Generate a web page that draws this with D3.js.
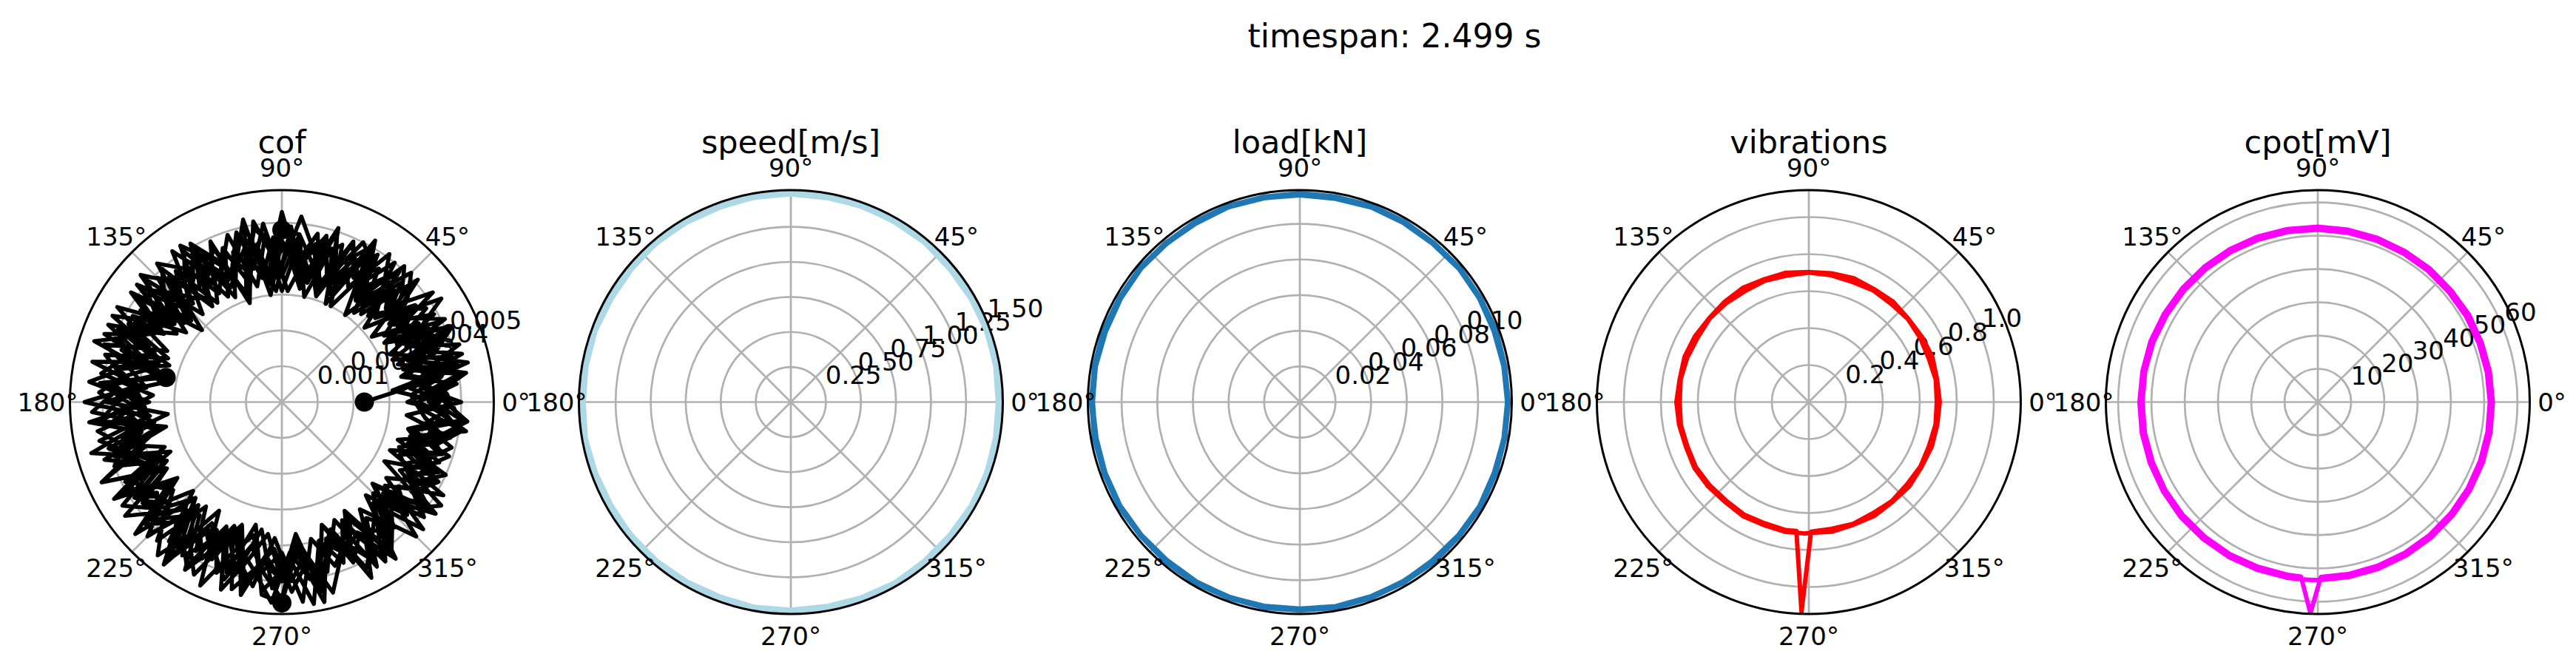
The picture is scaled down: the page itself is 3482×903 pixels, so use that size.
<!DOCTYPE html>
<html><head><meta charset="utf-8">
<script src="https://cdn.jsdelivr.net/npm/d3@7"></script>
<style>body{margin:0;background:#fff}svg text{font-family:"DejaVu Sans",sans-serif;fill:#000}</style>
</head><body><svg id="chart" width="3482" height="903"></svg>
<script>
// ---------- data ----------
const suptitle = "timespan: 2.499 s";
const panelTitles = ["cof", "speed[m/s]", "load[kN]", "vibrations", "cpot[mV]"];
const thetaTickDeg = [0, 45, 90, 135, 180, 225, 270, 315];
const thetaTickLabels = ["0°", "45°", "90°", "135°", "180°", "225°", "270°", "315°"];

// sample angles (degrees)
const cofAnglesA = [0,6,12,18,24,30,36,42,48,54,60,66,72,78,84,90,96,102,108,114,120,126,132,138,144,150,156,162,168,174,180,186,192,198,204,210,216,222,228,234,240,246,252,258,264,270,276,282,288,294,300,306,312,318,324,330,336,342,348,354];
const cofAnglesB = [3,9,15,21,27,33,39,45,51,57,63,69,75,81,87,93,99,105,111,117,123,129,135,141,147,153,159,165,171,177,183,189,195,201,207,213,219,225,231,237,243,249,255,261,267,273,279,285,291,297,303,309,315,321,327,333,339,345,351,357];
const ringAngles = [0,10,20,30,40,50,60,70,80,90,100,110,120,130,140,150,160,170,180,190,200,210,220,230,240,250,260,270,280,290,300,310,320,330,340,350,360];
const spikeAngles = [0,10,20,30,40,50,60,70,80,90,100,110,120,130,140,150,160,170,180,190,200,210,220,230,240,250,260,264.5,268,271,280,290,300,310,320,330,340,350,360];

// cof, one array per revolution
const cofLap1 = [0.0023,0.0034,0.0047,0.0038,0.0051,0.0035,0.0044,0.0031,0.0049,0.0040,0.0052,0.0033,0.0045,0.0030,0.0047,0.0048,0.0036,0.0050,0.0032,0.0043,0.0051,0.0035,0.0046,0.0030,0.0049,0.0038,0.0053,0.0041,0.0033,0.0050,0.0037,0.0054,0.0040,0.0048,0.0034,0.0052,0.0039,0.0055,0.0036,0.0047,0.0053,0.0038,0.0050,0.0035,0.0054,0.0056,0.0041,0.0052,0.0036,0.0049,0.0043,0.0054,0.0035,0.0047,0.0040,0.0052,0.0033,0.0046,0.0038,0.0051];
const cofLap2 = [0.0039,0.0050,0.0035,0.0047,0.0042,0.0053,0.0037,0.0044,0.0032,0.0049,0.0041,0.0036,0.0047,0.0033,0.0045,0.0040,0.0051,0.0034,0.0046,0.0038,0.0050,0.0043,0.0036,0.0048,0.0041,0.0053,0.0038,0.0046,0.0051,0.0036,0.0044,0.0040,0.0055,0.0042,0.0037,0.0049,0.0045,0.0052,0.0039,0.0047,0.0054,0.0041,0.0049,0.0036,0.0052,0.0044,0.0057,0.0040,0.0048,0.0037,0.0053,0.0045,0.0039,0.0050,0.0043,0.0048,0.0035,0.0045,0.0051,0.0039];
const cofLap3 = [0.0044,0.0031,0.0050,0.0037,0.0046,0.0033,0.0052,0.0039,0.0045,0.0030,0.0048,0.0036,0.0050,0.0034,0.0044,0.0031,0.0047,0.0042,0.0029,0.0049,0.0038,0.0045,0.0033,0.0051,0.0040,0.0047,0.0035,0.0052,0.0043,0.0038,0.0049,0.0032,0.0046,0.0040,0.0055,0.0037,0.0048,0.0044,0.0036,0.0053,0.0041,0.0047,0.0038,0.0055,0.0043,0.0050,0.0037,0.0054,0.0041,0.0046,0.0035,0.0052,0.0044,0.0039,0.0049,0.0033,0.0047,0.0041,0.0036,0.0050];
const cofLap4 = [0.0046,0.0037,0.0052,0.0040,0.0049,0.0034,0.0045,0.0051,0.0038,0.0043,0.0030,0.0047,0.0042,0.0035,0.0049,0.0031,0.0044,0.0048,0.0036,0.0042,0.0033,0.0047,0.0039,0.0052,0.0035,0.0044,0.0049,0.0040,0.0034,0.0047,0.0053,0.0038,0.0045,0.0050,0.0036,0.0048,0.0042,0.0053,0.0037,0.0051,0.0044,0.0038,0.0054,0.0047,0.0041,0.0053,0.0045,0.0049,0.0038,0.0055,0.0042,0.0047,0.0036,0.0051,0.0044,0.0040,0.0047,0.0037,0.0052,0.0043];
const cofLap5 = [0.0038,0.0049,0.0034,0.0045,0.0052,0.0036,0.0043,0.0031,0.0048,0.0038,0.0046,0.0030,0.0051,0.0037,0.0044,0.0049,0.0033,0.0046,0.0040,0.0035,0.0050,0.0042,0.0047,0.0034,0.0052,0.0039,0.0045,0.0055,0.0036,0.0047,0.0041,0.0051,0.0033,0.0048,0.0043,0.0037,0.0054,0.0046,0.0040,0.0050,0.0035,0.0056,0.0044,0.0038,0.0053,0.0047,0.0040,0.0051,0.0036,0.0045,0.0042,0.0049,0.0038,0.0053,0.0036,0.0044,0.0050,0.0034,0.0046,0.0040];
const cofLap6 = [0.0036,0.0045,0.0049,0.0033,0.0051,0.0043,0.0038,0.0047,0.0035,0.0046,0.0050,0.0038,0.0044,0.0032,0.0041,0.0046,0.0035,0.0049,0.0039,0.0045,0.0052,0.0037,0.0043,0.0050,0.0039,0.0048,0.0034,0.0051,0.0045,0.0040,0.0038,0.0052,0.0046,0.0035,0.0049,0.0043,0.0039,0.0047,0.0055,0.0042,0.0049,0.0037,0.0046,0.0052,0.0038,0.0050,0.0043,0.0055,0.0046,0.0039,0.0051,0.0042,0.0036,0.0047,0.0053,0.0038,0.0044,0.0049,0.0040,0.0046];
const cofLap7 = [0.0047,0.0036,0.0053,0.0041,0.0033,0.0049,0.0038,0.0045,0.0051,0.0035,0.0042,0.0048,0.0032,0.0045,0.0039,0.0053,0.0036,0.0044,0.0031,0.0047,0.0041,0.0052,0.0037,0.0045,0.0033,0.0048,0.0042,0.0036,0.0054,0.0039,0.0046,0.0051,0.0035,0.0043,0.0055,0.0038,0.0047,0.0042,0.0052,0.0036,0.0048,0.0039,0.0055,0.0045,0.0037,0.0050,0.0043,0.0057,0.0040,0.0047,0.0038,0.0052,0.0046,0.0035,0.0050,0.0041,0.0048,0.0037,0.0045,0.0052];
const cofLap8 = [0.0043,0.0052,0.0038,0.0045,0.0036,0.0048,0.0041,0.0034,0.0050,0.0039,0.0045,0.0035,0.0048,0.0040,0.0031,0.0043,0.0049,0.0038,0.0044,0.0033,0.0046,0.0041,0.0049,0.0035,0.0047,0.0042,0.0053,0.0037,0.0045,0.0051,0.0043,0.0036,0.0050,0.0044,0.0040,0.0053,0.0047,0.0035,0.0050,0.0045,0.0040,0.0051,0.0043,0.0048,0.0056,0.0042,0.0050,0.0044,0.0038,0.0052,0.0046,0.0041,0.0053,0.0037,0.0045,0.0049,0.0039,0.0043,0.0050,0.0045];
const cofLap9 = [0.0035,0.0046,0.0040,0.0052,0.0038,0.0044,0.0031,0.0047,0.0041,0.0036,0.0050,0.0043,0.0034,0.0048,0.0039,0.0045,0.0030,0.0052,0.0041,0.0037,0.0047,0.0033,0.0050,0.0044,0.0038,0.0053,0.0041,0.0047,0.0034,0.0051,0.0043,0.0037,0.0052,0.0045,0.0040,0.0054,0.0036,0.0049,0.0043,0.0056,0.0039,0.0046,0.0052,0.0041,0.0048,0.0055,0.0038,0.0050,0.0044,0.0036,0.0053,0.0040,0.0047,0.0034,0.0051,0.0042,0.0045,0.0039,0.0048,0.0035];
const cofLap10 = [0.0050,0.0039,0.0045,0.0034,0.0049,0.0042,0.0037,0.0051,0.0033,0.0046,0.0040,0.0049,0.0035,0.0043,0.0052,0.0038,0.0046,0.0033,0.0049,0.0041,0.0035,0.0046,0.0052,0.0036,0.0044,0.0040,0.0049,0.0033,0.0045,0.0054,0.0039,0.0047,0.0036,0.0052,0.0042,0.0049,0.0038,0.0051,0.0045,0.0039,0.0054,0.0044,0.0036,0.0051,0.0047,0.0042,0.0056,0.0039,0.0048,0.0043,0.0051,0.0037,0.0046,0.0041,0.0053,0.0038,0.0044,0.0049,0.0036,0.0047];
const cofLap11 = [0.0041,0.0048,0.0036,0.0044,0.0050,0.0039,0.0046,0.0035,0.0042,0.0051,0.0037,0.0044,0.0031,0.0040,0.0047,0.0035,0.0050,0.0038,0.0044,0.0032,0.0048,0.0039,0.0045,0.0053,0.0037,0.0042,0.0050,0.0036,0.0047,0.0041,0.0055,0.0038,0.0044,0.0049,0.0037,0.0052,0.0043,0.0047,0.0040,0.0055,0.0042,0.0048,0.0037,0.0053,0.0045,0.0050,0.0039,0.0054,0.0042,0.0047,0.0036,0.0050,0.0043,0.0038,0.0048,0.0041,0.0036,0.0047,0.0042,0.0044];
const cofMarkerIdx = [0, 15, 28, 45];   // marked samples of the first revolution

const speedLap1 = [1.492,1.495,1.490,1.493,1.497,1.491,1.494,1.489,1.496,1.492,1.488,1.495,1.493,1.490,1.497,1.492,1.494,1.489,1.493,1.496,1.491,1.495,1.488,1.492,1.497,1.490,1.494,1.492,1.496,1.489,1.493,1.495,1.491,1.497,1.490,1.494,1.492];
const speedLap2 = [1.484,1.489,1.493,1.487,1.485,1.491,1.488,1.494,1.486,1.490,1.492,1.485,1.488,1.493,1.487,1.484,1.491,1.489,1.486,1.494,1.488,1.485,1.492,1.490,1.487,1.484,1.493,1.489,1.486,1.491,1.494,1.487,1.485,1.490,1.492,1.488,1.484];

const loadLap1 = [0.1167,0.1165,0.1169,0.1166,0.1168,0.1164,0.1167,0.1170,0.1166,0.1168,0.1165,0.1169,0.1167,0.1164,0.1168,0.1166,0.1170,0.1167,0.1165,0.1168,0.1166,0.1169,0.1164,0.1167,0.1170,0.1166,0.1168,0.1165,0.1169,0.1167,0.1164,0.1168,0.1166,0.1170,0.1167,0.1165,0.1167];
const loadLap2 = [0.1167,0.1164,0.1162,0.1166,0.1168,0.1163,0.1165,0.1167,0.1162,0.1164,0.1166,0.1168,0.1163,0.1165,0.1167,0.1164,0.1162,0.1166,0.1168,0.1163,0.1165,0.1167,0.1164,0.1162,0.1166,0.1168,0.1165,0.1163,0.1167,0.1164,0.1166,0.1162,0.1165,0.1168,0.1163,0.1166,0.1167];

const vibLap1 = [0.708,0.704,0.711,0.706,0.702,0.709,0.705,0.712,0.707,0.703,0.710,0.706,0.713,0.708,0.704,0.711,0.715,0.709,0.716,0.712,0.707,0.714,0.710,0.705,0.712,0.708,0.713,0.709,0.711,0.707,0.712,0.706,0.710,0.704,0.709,0.703,0.707,0.705,0.708];
const vibLap2 = [0.692,0.697,0.690,0.695,0.699,0.693,0.697,0.691,0.696,0.700,0.694,0.698,0.692,0.697,0.701,0.695,0.700,0.704,0.698,0.703,0.699,0.705,0.700,0.696,0.702,0.698,0.704,0.700,1.135,0.701,0.696,0.701,0.694,0.699,0.693,0.697,0.692,0.696,0.692];

const cpotLap1 = [52.6,52.5,52.4,52.5,52.3,52.4,52.4,52.5,52.6,52.7,52.8,52.9,53.0,53.1,53.2,53.3,53.5,53.5,53.6,53.7,53.7,53.7,53.8,53.7,53.7,53.6,53.6,53.5,53.5,53.5,53.4,53.3,53.2,53.1,53.0,52.9,52.8,52.7,52.6];
const cpotLap2 = [51.7,51.6,51.5,51.5,51.4,51.5,51.5,51.6,51.7,51.8,51.9,52.0,52.1,52.2,52.3,52.4,52.6,52.7,52.7,52.8,52.8,52.9,52.9,52.8,52.8,52.7,52.7,52.7,63.5,52.6,52.5,52.4,52.3,52.2,52.1,52.0,51.9,51.8,51.7];

// radial ticks and limits
const cofTicks = [0.001, 0.002, 0.003, 0.004, 0.005];
const cofTickLabels = ["0.001", "0.002", "0.003", "0.004", "0.005"];
const speedTicks = [0.25, 0.5, 0.75, 1.0, 1.25, 1.5];
const speedTickLabels = ["0.25", "0.50", "0.75", "1.00", "1.25", "1.50"];
const loadTicks = [0.02, 0.04, 0.06, 0.08, 0.10];
const loadTickLabels = ["0.02", "0.04", "0.06", "0.08", "0.10"];
const vibTicks = [0.2, 0.4, 0.6, 0.8, 1.0];
const vibTickLabels = ["0.2", "0.4", "0.6", "0.8", "1.0"];
const cpotTicks = [10, 20, 30, 40, 50, 60];
const cpotTickLabels = ["10", "20", "30", "40", "50", "60"];
const rLimits = [0.00591, 1.512, 0.1189, 1.146, 63.7];

// ---------- layout / style ----------
const W = 3482, H = 903;
const CY = 543.5, R = 286.5;
const A = cofAnglesA, B = cofAnglesB;
const panels = [
  {laps: [[A, cofLap1], [B, cofLap2], [A, cofLap3], [B, cofLap4], [A, cofLap5], [B, cofLap6], [A, cofLap7], [B, cofLap8], [A, cofLap9], [A, cofLap10], [A, cofLap11]],
   color: "#000000", lw: 5.5, ticks: cofTicks, labels: cofTickLabels, markers: cofMarkerIdx},
  {laps: [[ringAngles, speedLap1], [ringAngles, speedLap2]], color: "#add8e6", lw: 9, ticks: speedTicks, labels: speedTickLabels},
  {laps: [[ringAngles, loadLap1], [ringAngles, loadLap2]], color: "#1f77b4", lw: 8, ticks: loadTicks, labels: loadTickLabels},
  {laps: [[spikeAngles, vibLap1], [spikeAngles, vibLap2]], color: "#ff0000", lw: 6, ticks: vibTicks, labels: vibTickLabels},
  {laps: [[spikeAngles, cpotLap1], [spikeAngles, cpotLap2]], color: "#ff00ff", lw: 6, ticks: cpotTicks, labels: cpotTickLabels}
];
panels.forEach((p, i) => { p.title = panelTitles[i]; p.rmax = rLimits[i]; });

const svg = d3.select("#chart");
svg.append("rect").attr("width", W).attr("height", H).attr("fill", "#fff");

svg.append("text").attr("x", 1885).attr("y", 64).attr("text-anchor", "middle")
  .attr("font-size", 44).text(suptitle);

const xPanel = d3.scalePoint().domain(panelTitles).range([381, 3133]);
const deg = Math.PI / 180;
const TICK_FS = 34, TITLE_FS = 43;
const GRID = "#b0b0b0";

panels.forEach((p, pi) => {
  const cx = xPanel(p.title);
  const g = svg.append("g").attr("transform", `translate(${cx},${CY})`);
  const r = d3.scaleLinear().domain([0, p.rmax]).range([0, R]);
  const clipId = "clip" + pi;
  g.append("clipPath").attr("id", clipId).append("circle").attr("r", R);

  // grid rings
  g.selectAll("circle.ring").data(p.ticks).join("circle").attr("class", "ring")
    .attr("r", d => r(d)).attr("fill", "none").attr("stroke", GRID).attr("stroke-width", 2.7);
  // spokes
  g.selectAll("line.spoke").data(thetaTickDeg).join("line").attr("class", "spoke")
    .attr("x1", 0).attr("y1", 0)
    .attr("x2", d => R * Math.cos(d * deg)).attr("y2", d => -R * Math.sin(d * deg))
    .attr("stroke", GRID).attr("stroke-width", 2.7);

  // radial tick labels at 22.5°
  const ra = 22.5 * deg;
  g.selectAll("text.rlab").data(p.ticks).join("text").attr("class", "rlab")
    .attr("x", d => r(d) * Math.cos(ra) + 3)
    .attr("y", d => -r(d) * Math.sin(ra) - 6)
    .attr("font-size", TICK_FS).attr("text-anchor", "start")
    .text((d, i) => p.labels[i]);

  // data
  const pts = [];
  p.laps.forEach(([ang, vals]) => vals.forEach((v, i) => pts.push([ang[i], v])));
  const line = d3.lineRadial()
    .angle(d => Math.PI / 2 - d[0] * deg)
    .radius(d => r(d[1]));
  const dg = g.append("g").attr("clip-path", `url(#${clipId})`);
  dg.append("path").datum(pts).attr("d", line)
    .attr("fill", "none").attr("stroke", p.color).attr("stroke-width", p.lw)
    .attr("stroke-linejoin", "round").attr("stroke-linecap", "butt");
  if (p.markers) {
    const [ang, first] = p.laps[0];
    dg.selectAll("circle.mk").data(p.markers).join("circle").attr("class", "mk")
      .attr("cx", i => r(first[i]) * Math.cos(ang[i] * deg))
      .attr("cy", i => -r(first[i]) * Math.sin(ang[i] * deg))
      .attr("r", 13).attr("fill", p.color);
  }

  // outer spine
  g.append("circle").attr("r", R).attr("fill", "none").attr("stroke", "#000").attr("stroke-width", 3);

  // theta tick labels
  g.selectAll("text.tlab").data(thetaTickDeg).join("text").attr("class", "tlab")
    .attr("x", d => (R + 30) * Math.cos(d * deg))
    .attr("y", d => -(R + 30) * Math.sin(d * deg) + 0.36 * TICK_FS)
    .attr("text-anchor", "middle").attr("font-size", TICK_FS)
    .text((d, i) => thetaTickLabels[i]);

  // title
  g.append("text").attr("x", 0).attr("y", 207 - CY).attr("text-anchor", "middle")
    .attr("font-size", TITLE_FS).text(p.title);
});
</script></body></html>
